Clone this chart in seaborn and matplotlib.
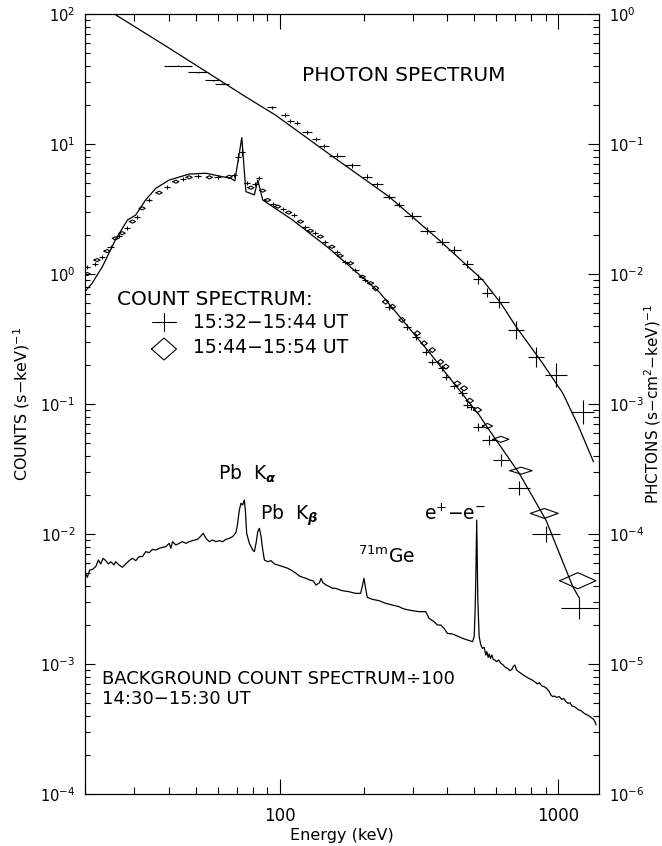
import numpy as np
import pandas as pd
import matplotlib
matplotlib.use("Agg")
import matplotlib.pyplot as plt
import seaborn as sns
from matplotlib.ticker import (LogLocator, NullFormatter, LogFormatterMathtext, FuncFormatter,
                               FixedLocator)
from matplotlib.lines import Line2D

# ---------------- photon spectrum (right axis, photons (s cm^2 keV)^-1) ----------------
photon_fit_energy = [25.5, 40, 75.4, 96.5, 155, 246.6, 373, 535, 622, 705, 878, 1038, 1180, 1337]
photon_fit_flux = [1.0, 0.548, 0.231, 0.167, 0.080, 0.0394, 0.0183, 0.0090, 0.00596, 0.00394,
                   0.00206, 0.00121, 0.00068, 0.00036]

photon_energy = [43, 51, 57.5, 62, 93.5, 104.2, 109.3, 115.4, 125.4, 135.3, 143.9, 160.7, 182, 206,
                 224, 247, 268, 299, 339, 384, 423, 472, 513, 555, 614, 705, 832, 981, 1222]
photon_flux = [0.40, 0.355, 0.31, 0.29, 0.191, 0.167, 0.151, 0.144, 0.124, 0.110, 0.097, 0.0809,
               0.0689, 0.056, 0.049, 0.0394, 0.034, 0.0281, 0.0215, 0.0177, 0.0153, 0.0119, 0.0091,
               0.0072, 0.00605, 0.00371, 0.00231, 0.00167, 0.000873]
# half bin widths and half error heights, in decades
photon_dex_e = [0.05, 0.036, 0.027, 0.025, 0.016, 0.015, 0.012, 0.012, 0.018, 0.015, 0.018, 0.03,
                0.027, 0.018, 0.021, 0.021, 0.018, 0.03, 0.027, 0.024, 0.024, 0.021, 0.018, 0.018,
                0.036, 0.027, 0.029, 0.04, 0.04]
photon_dex_f = [0.004, 0.004, 0.004, 0.004, 0.015, 0.015, 0.015, 0.015, 0.015, 0.015, 0.015, 0.019,
                0.019, 0.019, 0.019, 0.019, 0.019, 0.027, 0.027, 0.027, 0.027, 0.03, 0.038, 0.038,
                0.046, 0.07, 0.077, 0.092, 0.092]

# ---------------- count spectrum (left axis, counts (s keV)^-1) ----------------
count_fit_energy = [19.5, 21.2, 23.1, 25.7, 28.4, 30.4, 33.0, 35.9, 40.1, 47.3, 54.3, 62.4, 66.8,
                    69.0, 73.1, 75.6, 81.1, 83.4, 86.9, 102.5, 111.3, 150, 227, 343, 520, 565, 724,
                    903, 1127, 1191]
count_fit_rate = [0.69, 0.847, 1.14, 1.83, 2.6, 2.84, 3.71, 4.56, 5.28, 5.87, 5.96, 5.6, 5.44, 5.2,
                  11.2, 4.3, 4.06, 5.28, 3.71, 2.93, 2.6, 1.58, 0.731, 0.252, 0.0822, 0.063, 0.0293,
                  0.0128, 0.00394, 0.0032]

# 15:32-15:44 UT (crosses)
early_energy = [20.4, 21.8, 23.1, 24.7, 26.4, 28.4, 30.8, 34.0, 39.5, 44.8, 50.7, 59.8, 68.7, 70.6,
                73.1, 76.1, 81.8, 84.0, 94.4, 102.5, 112.3, 123.7, 134.3, 145.8, 160.7, 172, 187,
                203, 247, 287, 308, 334, 353, 384, 395, 423, 453, 470, 485, 513, 565, 622, 724,
                903, 1191]
early_rate = [1.14, 1.19, 1.36, 1.62, 1.97, 2.25, 2.76, 3.71, 4.7, 5.35, 5.67, 5.54, 5.78, 7.9,
              8.74, 5.04, 4.96, 5.45, 3.48, 3.15, 2.84, 2.31, 2.08, 1.77, 1.48, 1.24, 1.07, 0.9,
              0.56, 0.394, 0.33, 0.252, 0.211, 0.188, 0.162, 0.137, 0.121, 0.098, 0.094, 0.0668,
              0.0528, 0.0371, 0.0225, 0.01, 0.00268]
early_dex_e = [0.011] * 28 + [0.0144] * 11 + [0.018, 0.027, 0.029, 0.04, 0.05, 0.065]
early_dex_r = ([0.015] * 13 + [0.03, 0.03] + [0.015] * 13 + [0.023] * 11
               + [0.03, 0.038, 0.046, 0.054, 0.058, 0.085])

# 15:44-15:54 UT (diamonds)
late_energy = [20.4, 22.1, 24.0, 25.7, 27.2, 29.6, 32.1, 36.9, 42.4, 47.3, 55.9, 65.9, 78.8, 86.9,
               90.5, 98.4, 107.7, 118.7, 128.9, 140, 154, 165, 179.5, 198, 212, 221, 240, 254, 275,
               312, 330, 353, 378, 395, 434, 459, 481, 513, 557, 622, 735, 891, 1175]
late_rate = [1.0, 1.28, 1.5, 1.88, 2.06, 2.53, 3.2, 4.22, 5.13, 5.54, 5.54, 5.6, 4.61, 4.38, 3.71,
             3.3, 2.97, 2.53, 2.15, 1.94, 1.62, 1.38, 1.21, 0.953, 0.85, 0.776, 0.612, 0.56, 0.443,
             0.35, 0.293, 0.26, 0.211, 0.194, 0.144, 0.132, 0.106, 0.09, 0.0677, 0.0535, 0.0307,
             0.0144, 0.00437]
late_dex_e = [0.011] * 34 + [0.013] * 3 + [0.0144, 0.018, 0.029, 0.04, 0.05, 0.065]
late_dex_r = [0.012] * 25 + [0.019] * 12 + [0.02, 0.02, 0.023, 0.027, 0.038, 0.062]

# ---------------- background count spectrum / 100 ----------------
bg_energy = [19.56, 19.83, 20.11, 20.39, 20.79, 21.26, 21.85, 22.34, 22.77, 23.21, 23.73, 24.26,
             24.74, 25.43, 25.78, 26.50, 27.24, 28.02, 28.80, 29.61, 30.43, 31.28, 32.16, 33.05,
             33.98, 34.93, 35.91, 36.92, 37.95, 39.01, 40.11, 40.67, 41.22, 42.38, 43.57, 44.79,
             46.04, 47.33, 48.66, 50.71, 52.13, 53.15, 54.34, 55.85, 57.41, 59.02, 60.67, 62.37,
             64.12, 65.92, 67.76, 69.66, 70.63, 71.61, 72.61, 73.62, 74.64, 75.27, 76.09, 77.81,
             79.99, 81.10, 82.23, 83.38, 84.53, 85.71, 86.91, 88.11, 90.58, 93.11, 95.71, 98.38,
             102.5, 106.9, 109.8, 114.5, 117.7, 121.0, 124.4, 127.9, 131.5, 135.1, 138.9, 140.8,
             142.8, 146.8, 150.9, 155.1, 158.6, 167.6, 177.1, 187.2, 195.1, 197.8, 200.6, 203.4,
             206.2, 214.9, 227.1, 239.9, 253.6, 268.0, 275.5, 283.2, 299.2, 316.2, 334.2, 343.6,
             358.1, 368.1, 378.4, 389.0, 399.9, 416.8, 434.5, 452.9, 472.1, 492.1, 498.9, 503.0,
             505.8, 509.5, 514.2, 519.9, 527.2, 534.5, 541.9, 549.4, 553.9, 560.1, 564.9, 571.0,
             577.4, 583.8, 591.9, 600.1, 610.2, 622.2, 634.3, 645.0, 657.5, 670.2, 681.5, 691.0,
             698.6, 708.4, 720.2, 734.3, 748.6, 765.4, 782.5, 797.4, 813.0, 831.1, 842.7, 854.5,
             873.5, 890.5, 907.8, 928.2, 941.0, 954.2, 967.4, 986.3, 1008.3, 1028.0, 1045.2,
             1065.6, 1083.4, 1101.5, 1120.0, 1141.8, 1164.1, 1183.6, 1206.6, 1230.2, 1250.8,
             1275.5, 1300.2, 1322.0, 1340.2, 1358.9, 1366.7]
bg_rate = [0.00382, 0.00456, 0.00498, 0.00464, 0.00528, 0.00534, 0.00561, 0.00631, 0.00588,
           0.00650, 0.00624, 0.00588, 0.00612, 0.00578, 0.00612, 0.00578, 0.00555, 0.00588,
           0.00624, 0.00650, 0.00624, 0.00670, 0.00670, 0.00732, 0.00718, 0.00762, 0.00753,
           0.00776, 0.00789, 0.00799, 0.00848, 0.00776, 0.00873, 0.00823, 0.00848, 0.00873,
           0.00848, 0.00873, 0.00889, 0.00910, 0.00966, 0.01013, 0.00926, 0.00873, 0.00899,
           0.00873, 0.00889, 0.00873, 0.00910, 0.00926, 0.00955, 0.01024, 0.01208, 0.01531,
           0.01723, 0.01672, 0.01827, 0.01531, 0.01013, 0.00848, 0.00753, 0.00732, 0.00848,
           0.01042, 0.01107, 0.00955, 0.00753, 0.00631, 0.00612, 0.00624, 0.00588, 0.00578,
           0.00561, 0.00545, 0.00528, 0.00498, 0.00475, 0.00464, 0.00456, 0.00443, 0.00438,
           0.00405, 0.00422, 0.00456, 0.00422, 0.00405, 0.00394, 0.00382, 0.00382, 0.003665,
           0.003601, 0.003495, 0.003495, 0.003935, 0.00456, 0.00382, 0.003257, 0.003144,
           0.003071, 0.002928, 0.002843, 0.002761, 0.002681, 0.002633, 0.002571, 0.002527,
           0.002527, 0.002245, 0.002117, 0.001995, 0.001995, 0.001880, 0.001721, 0.001701,
           0.001642, 0.001576, 0.001529, 0.001485, 0.001623, 0.002602, 0.004696, 0.0128,
           0.003107, 0.001623, 0.001400, 0.001319, 0.001343, 0.001173, 0.001244, 0.001125,
           0.001194, 0.001105, 0.001173, 0.001086, 0.001074, 0.001042, 0.001074, 0.001012,
           0.000982, 0.000943, 0.000926, 0.000889, 0.000910, 0.000965, 0.000982, 0.000899,
           0.000873, 0.000848, 0.000823, 0.000799, 0.000776, 0.000762, 0.000744, 0.000719,
           0.000702, 0.000719, 0.000677, 0.000669, 0.000650, 0.000612, 0.000578, 0.000561,
           0.000567, 0.000554, 0.000561, 0.000535, 0.000544, 0.000513, 0.000498, 0.000504,
           0.000475, 0.000470, 0.000456, 0.000443, 0.000438, 0.000422, 0.000412, 0.000405,
           0.000393, 0.000382, 0.000375, 0.000354, 0.000340]

# axis decades and tick labels
count_decades = [1e-4, 1e-3, 1e-2, 1e-1, 1e0, 1e1, 1e2]
photon_decades = [1e-6, 1e-5, 1e-4, 1e-3, 1e-2, 1e-1, 1e0]
energy_ticks = [100, 1000]
energy_tick_labels = ["100", "1000"]

# ---------------- styling ----------------
sns.set_theme(style="ticks")
plt.rcParams["font.family"] = ["DejaVu Sans"]
plt.rcParams["mathtext.fontset"] = "dejavusans"
plt.rcParams["text.color"] = "black"
plt.rcParams["axes.labelcolor"] = "black"
plt.rcParams["xtick.color"] = "black"
plt.rcParams["ytick.color"] = "black"
plt.rcParams["axes.linewidth"] = 0.8
plt.rcParams["axes.edgecolor"] = "black"

INK = "black"
LW = 0.9

fig = plt.figure(figsize=(6.62, 8.46), dpi=100)
ax = fig.add_axes([85 / 662, 52 / 846, 514 / 662, 780 / 846])
ax.set_xscale("log")
ax.set_yscale("log")
ax.set_xlim(20, 1400)
ax.set_ylim(1e-4, 1e2)

ax2 = ax.twinx()
ax2.set_yscale("log")
ax2.set_ylim(1e-6, 1)

# fitted curves and background spectrum
fit_c = pd.DataFrame({"energy": count_fit_energy, "rate": count_fit_rate})
sns.lineplot(data=fit_c, x="energy", y="rate", ax=ax, color=INK, lw=LW, sort=False, estimator=None)
bg = pd.DataFrame({"energy": bg_energy, "rate": bg_rate})
sns.lineplot(data=bg, x="energy", y="rate", ax=ax, color=INK, lw=0.9, sort=False, estimator=None)
fit_p = pd.DataFrame({"energy": photon_fit_energy, "flux": photon_fit_flux})
sns.lineplot(data=fit_p, x="energy", y="flux", ax=ax2, color=INK, lw=LW, sort=False, estimator=None)
ax2.set_xlabel("")
ax2.tick_params(axis="x", which="both", bottom=False, top=False, labelbottom=False, labeltop=False)


def log_err(values, dex):
    v = np.asarray(values, float)
    d = np.asarray(dex, float)
    return np.vstack([v - v / 10 ** d, v * 10 ** d - v])


def crosses(axis, e, v, de, dv):
    axis.errorbar(e, v, xerr=log_err(e, de), yerr=log_err(v, dv), fmt="none",
                  ecolor=INK, elinewidth=0.8, capsize=0)


def diamonds(axis, e, v, de, dv):
    for ei, vi, a, b in zip(e, v, de, dv):
        xs = [ei / 10 ** a, ei, ei * 10 ** a, ei, ei / 10 ** a]
        ys = [vi, vi * 10 ** b, vi, vi / 10 ** b, vi]
        axis.plot(xs, ys, color=INK, lw=0.8)


crosses(ax2, photon_energy, photon_flux, photon_dex_e, photon_dex_f)
crosses(ax, early_energy, early_rate, early_dex_e, early_dex_r)
diamonds(ax, late_energy, late_rate, late_dex_e, late_dex_r)

# ---------------- axes, ticks ----------------
for a, decades in ((ax, count_decades), (ax2, photon_decades)):
    a.yaxis.set_major_locator(FixedLocator(decades))
    a.yaxis.set_minor_locator(LogLocator(base=10, subs=np.arange(2, 10), numticks=20))
    a.yaxis.set_minor_formatter(NullFormatter())
    a.yaxis.set_major_formatter(LogFormatterMathtext())
ax.xaxis.set_major_locator(FixedLocator(energy_ticks))
ax.xaxis.set_minor_locator(LogLocator(base=10, subs=np.arange(2, 10), numticks=20))
ax.xaxis.set_minor_formatter(NullFormatter())
ax.set_xticklabels(energy_tick_labels)

ax.tick_params(axis="x", which="major", direction="in", length=11, width=0.8, top=True,
               labelsize=12, pad=9)
ax.tick_params(axis="x", which="minor", direction="in", length=5, width=0.8, top=True)
ax.tick_params(axis="y", which="major", direction="in", length=7, width=0.8, right=False,
               labelsize=10.5, pad=7)
ax.tick_params(axis="y", which="minor", direction="in", length=3.6, width=0.8, right=False)
ax2.tick_params(axis="y", which="major", direction="in", length=8, width=0.8, labelsize=10.5,
                pad=7)
ax2.tick_params(axis="y", which="minor", direction="in", length=4.3, width=0.8)
for a in (ax, ax2):
    for s in a.spines.values():
        s.set_color(INK)
        s.set_linewidth(0.8)

ax.set_xlabel("Energy (keV)", fontsize=11.5)
ax.xaxis.set_label_coords(0.5, -0.043)
ax.set_ylabel(r"COUNTS (s$-$keV)$^{-1}$", fontsize=11.5)
ax.yaxis.set_label_coords(-0.104, 0.5)
ax2.set_ylabel(r"PHCTONS (s$-$cm$^2$$-$keV)$^{-1}$", fontsize=11, rotation=90)
ax2.yaxis.set_label_coords(1.085, 0.5)

# ---------------- annotations ----------------
T = dict(transform=ax.transAxes, color=INK, va="baseline", ha="left")
ax.text(0.422, 0.9145, "PHOTON SPECTRUM", fontsize=14.5, **T)
ax.text(0.0623, 0.6269, "COUNT SPECTRUM:", fontsize=14.5, **T)
ax.text(0.210, 0.597, "15:32\u221215:44 UT", fontsize=13.5, **T)
ax.text(0.210, 0.5654, "15:44\u221215:54 UT", fontsize=13.5, **T)
ax.text(0.0330, 0.1404, "BACKGROUND COUNT SPECTRUM\u00f7100", fontsize=13, **T)
ax.text(0.0330, 0.1160, "14:30\u221215:30 UT", fontsize=13, **T)
ax.text(0.2588, 0.4026, r"Pb  K$_{\boldsymbol{\alpha}}$", fontsize=13.5, **T)
ax.text(0.3405, 0.3513, r"Pb  K$_{\boldsymbol{\beta}}$", fontsize=13.5, **T)
ax.text(0.531, 0.296, r"$^{\mathregular{71m}}$Ge", fontsize=13.5, **T)
ax.text(0.6595, 0.3513, r"e$^{+}$$-$e$^{-}$", fontsize=13.5, **T)

# legend glyphs
cx, cy = 0.1537, 0.6055
ax.add_line(Line2D([cx - 0.0243, cx + 0.0243], [cy, cy], transform=ax.transAxes, color=INK, lw=0.8))
ax.add_line(Line2D([cx, cx], [cy - 0.0115, cy + 0.0115], transform=ax.transAxes, color=INK, lw=0.8))
dx, dy = 0.1537, 0.5705
ax.add_line(Line2D([dx - 0.0243, dx, dx + 0.0243, dx, dx - 0.0243],
                   [dy, dy + 0.0141, dy, dy - 0.0141, dy], transform=ax.transAxes, color=INK, lw=0.8))

fig.savefig("out.png", dpi=100, facecolor="white")
